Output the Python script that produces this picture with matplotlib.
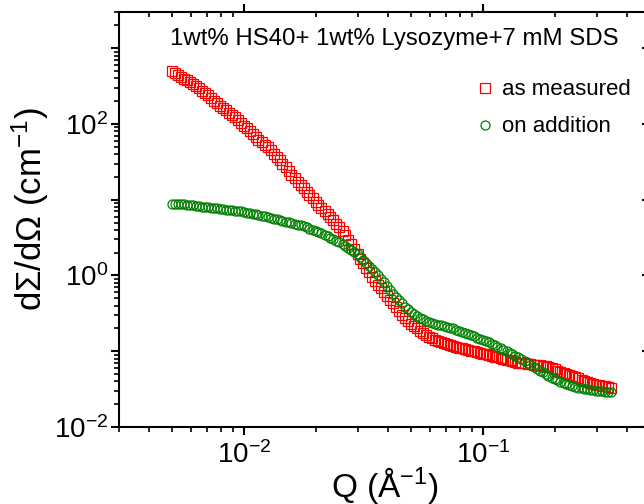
import matplotlib
matplotlib.use('Agg')
import matplotlib.pyplot as plt
from matplotlib.ticker import LogLocator, NullFormatter

plt.rcParams['font.family'] = ['Liberation Sans', 'DejaVu Sans']
plt.rcParams['mathtext.fontset'] = 'custom'
plt.rcParams['mathtext.rm'] = 'Liberation Sans'
plt.rcParams['mathtext.it'] = 'Liberation Sans:italic'
plt.rcParams['mathtext.default'] = 'regular'

# Q values (1/A)
q = [0.00501, 0.00531, 0.00562, 0.00596, 0.00631, 0.00668, 0.00708, 0.00750,
     0.00794, 0.00841, 0.00891, 0.00944, 0.0100, 0.0106, 0.0112, 0.0119,
     0.0126, 0.0133, 0.0141, 0.0150, 0.0158, 0.0168, 0.0178, 0.0188,
     0.0200, 0.0211, 0.0224, 0.0237, 0.0251, 0.0266, 0.0282, 0.0299,
     0.0316, 0.0335, 0.0355, 0.0376, 0.0398, 0.0422, 0.0447, 0.0473,
     0.0501, 0.0531, 0.0562, 0.0596, 0.0631, 0.0668, 0.0708, 0.0750,
     0.0794, 0.0841, 0.0891, 0.0944, 0.100, 0.106, 0.112, 0.119,
     0.126, 0.133, 0.141, 0.150, 0.158, 0.168, 0.178, 0.188,
     0.200, 0.211, 0.224, 0.237, 0.251, 0.266, 0.282, 0.299,
     0.316, 0.335, 0.343]

# as measured (cm^-1)
i_measured = [501, 447, 398, 355, 316, 275, 240, 204,
              174, 151, 132, 112, 95.5, 81.3, 67.6, 57.5,
              49.0, 40.7, 33.1, 26.9, 21.4, 17.4, 14.1, 11.5,
              9.33, 7.76, 6.46, 5.37, 4.37, 3.39, 2.57, 1.91,
              1.45, 1.10, 0.851, 0.676, 0.537, 0.427, 0.339, 0.275,
              0.229, 0.200, 0.174, 0.155, 0.141, 0.132, 0.123, 0.117,
              0.112, 0.107, 0.102, 0.0977, 0.0933, 0.0891, 0.0851, 0.0813,
              0.0776, 0.0741, 0.0708, 0.0692, 0.0676, 0.0661, 0.0646, 0.0617,
              0.0575, 0.0537, 0.0501, 0.0468, 0.0437, 0.0407, 0.0380, 0.0363,
              0.0347, 0.0339, 0.0331]

# on addition (cm^-1)
i_addition = [8.91, 8.91, 8.71, 8.51, 8.32, 8.13, 7.94, 7.76,
              7.59, 7.41, 7.24, 7.08, 6.92, 6.61, 6.46, 6.17,
              5.89, 5.62, 5.37, 5.13, 4.90, 4.68, 4.47, 4.17,
              3.89, 3.63, 3.31, 3.02, 2.75, 2.45, 2.19, 1.91,
              1.62, 1.35, 1.12, 0.912, 0.724, 0.575, 0.468, 0.389,
              0.331, 0.288, 0.263, 0.245, 0.229, 0.219, 0.209, 0.200,
              0.186, 0.174, 0.162, 0.151, 0.141, 0.132, 0.120, 0.110,
              0.100, 0.0912, 0.0832, 0.0741, 0.0661, 0.0589, 0.0525, 0.0468,
              0.0427, 0.0398, 0.0372, 0.0347, 0.0331, 0.0316, 0.0309, 0.0302,
              0.0295, 0.0288, 0.0288]

# second set of points, lying between the ones above
q_mid = [0.00516, 0.00546, 0.00579, 0.00613, 0.00649, 0.00688, 0.00729, 0.00772,
         0.00818, 0.00866, 0.00917, 0.00972, 0.0103, 0.0109, 0.0115, 0.0122,
         0.0130, 0.0137, 0.0145, 0.0154, 0.0163, 0.0173, 0.0183, 0.0194,
         0.0205, 0.0218, 0.0230, 0.0244, 0.0259, 0.0274, 0.0290, 0.0307,
         0.0325, 0.0345, 0.0365, 0.0387, 0.0410, 0.0434, 0.0460, 0.0487,
         0.0516, 0.0546, 0.0579, 0.0613, 0.0649, 0.0688, 0.0729, 0.0772,
         0.0818, 0.0866, 0.0917, 0.0972, 0.103, 0.109, 0.115, 0.122,
         0.130, 0.137, 0.145, 0.154, 0.163, 0.173, 0.183, 0.194,
         0.205, 0.218, 0.230, 0.244, 0.259, 0.274, 0.290, 0.307,
         0.325]

i_measured_mid = [473, 422, 376, 335, 295, 257, 221, 188,
                  162, 141, 122, 104, 88.1, 74.1, 62.4, 53.1,
                  44.7, 36.7, 29.9, 24.0, 19.3, 15.7, 12.7, 10.4,
                  8.51, 7.08, 5.89, 4.84, 3.85, 2.95, 2.21, 1.66,
                  1.26, 0.966, 0.759, 0.603, 0.479, 0.380, 0.305, 0.251,
                  0.214, 0.186, 0.164, 0.148, 0.136, 0.127, 0.120, 0.115,
                  0.110, 0.105, 0.100, 0.0955, 0.0912, 0.0871, 0.0832, 0.0794,
                  0.0759, 0.0724, 0.0700, 0.0684, 0.0668, 0.0653, 0.0631, 0.0596,
                  0.0556, 0.0519, 0.0484, 0.0452, 0.0422, 0.0394, 0.0372, 0.0355,
                  0.0343]

i_addition_mid = [8.91, 8.81, 8.61, 8.41, 8.22, 8.04, 7.85, 7.67,
                  7.50, 7.33, 7.16, 7.00, 6.76, 6.53, 6.31, 6.03,
                  5.75, 5.50, 5.25, 5.01, 4.79, 4.57, 4.32, 4.03,
                  3.76, 3.47, 3.16, 2.88, 2.60, 2.32, 2.04, 1.76,
                  1.48, 1.23, 1.01, 0.813, 0.646, 0.519, 0.427, 0.359,
                  0.309, 0.275, 0.254, 0.237, 0.224, 0.214, 0.204, 0.193,
                  0.180, 0.168, 0.157, 0.146, 0.136, 0.126, 0.115, 0.105,
                  0.0955, 0.0871, 0.0785, 0.0700, 0.0624, 0.0556, 0.0495, 0.0447,
                  0.0412, 0.0385, 0.0359, 0.0339, 0.0324, 0.0313, 0.0305, 0.0299,
                  0.0292]

assert len(q) == len(i_measured) == len(i_addition)
assert len(q_mid) == len(i_measured_mid) == len(i_addition_mid)

q_all = q + q_mid
measured_all = i_measured + i_measured_mid
addition_all = i_addition + i_addition_mid

fig = plt.figure(figsize=(6.44, 5.04), dpi=100)
ax = fig.add_axes([0.1848, 0.1528, 1.009 - 0.1848, 0.976 - 0.1528])

ax.plot(q_all, measured_all, ls='none', marker='s', ms=6.5, mfc='none', mec='#ff0000',
        mew=0.9, label='as measured')
ax.plot(q_all, addition_all, ls='none', marker='o', ms=6.5, mfc='none', mec='#008000',
        mew=0.9, label='on addition')

ax.set_xscale('log')
ax.set_yscale('log')
ax.set_xlim(0.003, 0.5)
ax.set_ylim(0.01, 3000)

ax.yaxis.set_minor_locator(LogLocator(base=10, subs=range(2, 10), numticks=20))
ax.set_yticks([1e-2, 1e-1, 1, 10, 100, 1000])
ax.set_yticklabels(['$10^{-2}$', '', '$10^{0}$', '', '$10^{2}$', ''])
ax.yaxis.set_minor_formatter(NullFormatter())
ax.xaxis.set_minor_locator(LogLocator(base=10, subs=range(2, 10), numticks=20))
ax.xaxis.set_minor_formatter(NullFormatter())

for side in ['left', 'right', 'top', 'bottom']:
    ax.spines[side].set_linewidth(1.5)

ax.tick_params(axis='both', which='major', labelsize=20, width=1.5, length=6, pad=2)
ax.tick_params(axis='both', which='minor', width=1.2, length=3.5)
ax.tick_params(axis='x', which='both', top=True, direction='out')
ax.tick_params(axis='y', which='both', right=True, direction='out')
# top and right ticks point inward
for t in ax.xaxis.get_major_ticks() + ax.xaxis.get_minor_ticks():
    t.tick2line.set_marker(3)
for t in ax.yaxis.get_major_ticks() + ax.yaxis.get_minor_ticks():
    t.tick2line.set_marker(0)
ax.tick_params(axis='x', which='major', pad=4)

ax.set_xlabel('Q (Å$^{-1}$)', fontsize=24, labelpad=-3)
ax.set_ylabel('dΣ/dΩ (cm$^{-1}$)', fontsize=25, labelpad=2)
ax.yaxis.label.set_y(0.525)

ax.text(0.0049, 1330, '1wt% HS40+ 1wt% Lysozyme+7 mM SDS', fontsize=17.3,
        va='center', ha='left')

ax.legend(loc='upper left', bbox_to_anchor=(0.672, 0.838), frameon=False,
          fontsize=16, handlelength=0.8, handletextpad=0.4, labelspacing=0.72,
          borderaxespad=0, borderpad=0)

fig.savefig('out.png', dpi=100)
